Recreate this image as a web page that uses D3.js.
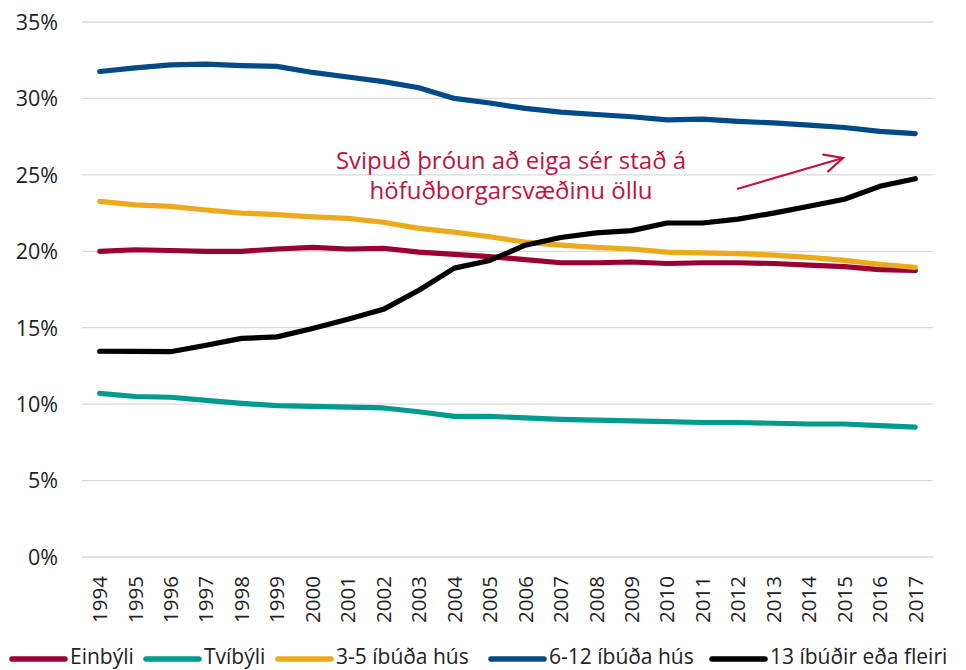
<!DOCTYPE html>
<html><head><meta charset="utf-8">
<script src="https://cdn.jsdelivr.net/npm/d3@7/dist/d3.min.js"></script>
<style>body{margin:0;background:#fff;} svg{display:block;font-family:"Open Sans","Segoe UI",sans-serif;}</style>
</head><body>
<svg id="chart" width="966" height="670"></svg>
<script>
const years = ["1994","1995","1996","1997","1998","1999","2000","2001","2002","2003","2004","2005","2006","2007","2008","2009","2010","2011","2012","2013","2014","2015","2016","2017"];
const seriesNames = ["Einbýli","Tvíbýli","3-5 íbúða hús","6-12 íbúða hús","13 íbúðir eða fleiri"];
const seriesColors = ["#990033","#009A8E","#EBA91B","#004A87","#000000"];
const einbyli = [20.0,20.1,20.05,20.0,20.0,20.15,20.25,20.15,20.2,19.95,19.8,19.65,19.45,19.25,19.25,19.3,19.2,19.25,19.25,19.2,19.1,19.0,18.8,18.75];
const tvibyli = [10.7,10.5,10.45,10.25,10.05,9.9,9.85,9.8,9.75,9.5,9.2,9.2,9.1,9.0,8.95,8.9,8.85,8.8,8.8,8.75,8.7,8.7,8.6,8.5];
const ibudir3_5 = [23.27,23.04,22.94,22.7,22.5,22.4,22.25,22.15,21.9,21.5,21.25,20.95,20.6,20.4,20.25,20.15,19.95,19.9,19.85,19.75,19.6,19.4,19.15,18.95];
const ibudir6_12 = [31.76,32.0,32.2,32.25,32.15,32.1,31.7,31.4,31.1,30.7,30.0,29.7,29.35,29.1,28.95,28.8,28.6,28.65,28.5,28.4,28.25,28.1,27.85,27.7];
const ibudir13 = [13.46,13.45,13.43,13.85,14.3,14.4,14.95,15.55,16.2,17.45,18.9,19.4,20.4,20.9,21.2,21.35,21.85,21.85,22.1,22.5,22.95,23.4,24.25,24.75];
const yTicks = [0,5,10,15,20,25,30,35];
const annotationLines = ["Svipuð þróun að eiga sér stað á","höfuðborgarsvæðinu öllu"];

(function(){
const allSeries = [einbyli,tvibyli,ibudir3_5,ibudir6_12,ibudir13];
const svg = d3.select("#chart");
const pl = 82, pr = 933, pt = 22, pb = 557;

const x = d3.scaleBand().domain(years).range([pl,pr]);
const y = d3.scaleLinear().domain([0,35]).range([pb,pt]);

svg.append("g").selectAll("line").data(yTicks).join("line")
  .attr("x1",pl).attr("x2",pr)
  .attr("y1",d=>y(d)).attr("y2",d=>y(d))
  .attr("stroke","#d9d9d9").attr("stroke-width",1.3);

const yAxis = svg.append("g").attr("transform",`translate(${pl-24},0)`)
  .call(d3.axisLeft(y).tickValues(yTicks).tickFormat(d=>d+"%").tickSize(0).tickPadding(0));
yAxis.select(".domain").remove();
yAxis.selectAll("text").attr("font-size",21.5).attr("fill","#222").attr("font-family","'Open Sans',sans-serif").attr("dy","0.34em");

const xAxis = svg.append("g").attr("transform",`translate(0,${pb})`)
  .call(d3.axisBottom(x).tickSize(0).tickPadding(0));
xAxis.select(".domain").remove();
xAxis.selectAll("text")
  .attr("font-size",20.5).attr("fill","#222").attr("font-family","'Open Sans',sans-serif")
  .attr("transform","rotate(-90)")
  .attr("text-anchor","end")
  .attr("x",-19).attr("y",0).attr("dy","0.36em");

const line = d3.line().x((d,i)=>x(years[i])+x.bandwidth()/2).y(d=>y(d)).curve(d3.curveLinear);
allSeries.forEach((s,i)=>{
  svg.append("path").datum(s)
    .attr("d",line).attr("fill","none")
    .attr("stroke",seriesColors[i]).attr("stroke-width",5.2)
    .attr("stroke-linecap","round").attr("stroke-linejoin","round");
});

const ann = svg.append("text").attr("fill","#C0123C").attr("font-size",24).attr("text-anchor","middle");
annotationLines.forEach((t,i)=>{
  ann.append("tspan").attr("x",511).attr("y",169+i*30).text(t);
});
const ax1 = 737, ay1 = 189, ax2 = 843, ay2 = 158;
svg.append("line").attr("x1",ax1).attr("y1",ay1).attr("x2",ax2).attr("y2",ay2)
  .attr("stroke","#C0123C").attr("stroke-width",2.2);
const ang = Math.atan2(ay2-ay1, ax2-ax1);
const hl = 20, ha = 0.45;
svg.append("path")
  .attr("d",`M${ax2-hl*Math.cos(ang-ha)},${ay2-hl*Math.sin(ang-ha)}L${ax2},${ay2}L${ax2-hl*Math.cos(ang+ha)},${ay2-hl*Math.sin(ang+ha)}`)
  .attr("fill","none").attr("stroke","#C0123C").attr("stroke-width",2.2).attr("stroke-linecap","round");

const legendStarts = [12,146,278,491,712];
const lg = svg.append("g");
seriesNames.forEach((n,i)=>{
  const lx = legendStarts[i];
  lg.append("line").attr("x1",lx).attr("x2",lx+53).attr("y1",659).attr("y2",659)
    .attr("stroke",seriesColors[i]).attr("stroke-width",5.5).attr("stroke-linecap","round");
  lg.append("text").attr("x",lx+58).attr("y",664)
    .attr("font-size",21).attr("fill","#222").text(n);
});
})();
</script>
</body></html>
